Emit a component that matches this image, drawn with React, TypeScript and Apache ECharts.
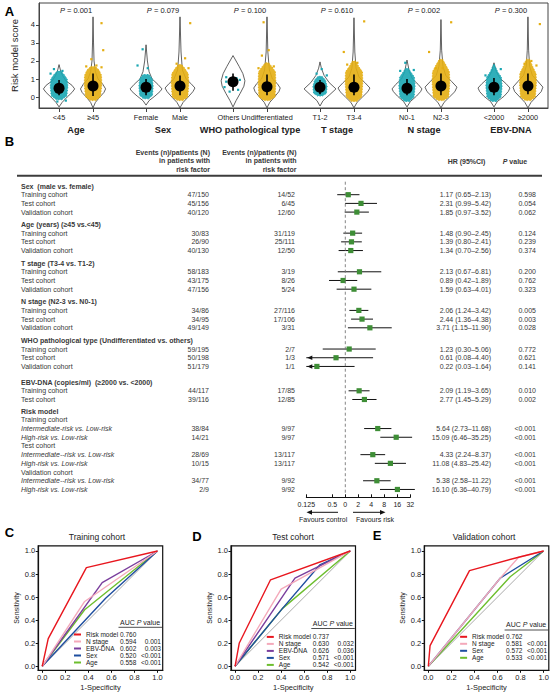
import { useEffect, useRef } from 'react';
import * as echarts from 'echarts';

const FONT = '"Liberation Sans", Arial, Helvetica, sans-serif';
const INK = '#222222';
const TABLE_INK = '#383838';
const TEAL = '#19A6B2';
const GOLD = '#E4AE12';
const SQUARE_GREEN = '#3E8E36';

// ---------- Panel A: risk model score by clinical factor ----------
const factorNames = ['Age', 'Sex', 'WHO pathological type', 'T stage', 'N stage', 'EBV-DNA'];
const factorP = ['0.001', '0.079', '0.100', '0.610', '0.002', '0.300'];
const levelLabels = ['<45', '≥45', 'Female', 'Male', 'Others', 'Undifferentiated', 'T1-2', 'T3-4', 'N0-1', 'N2-3', '<2000', '≥2000'];
const levelMeans = [0.48, 0.61, 0.54, 0.61, 0.85, 0.57, 0.54, 0.54, 0.48, 0.61, 0.54, 0.61];
const levelSpread: [number, number][] = [
  [0.1, 0.95], [0.05, 1.3], [0.1, 1.0], [0.1, 1.2], [0.35, 1.3], [0.1, 1.25],
  [0.15, 0.95], [0.1, 1.25], [0.1, 1.0], [0.1, 1.3], [0.1, 1.05], [0.15, 1.3],
];
// violin outline: [score, half width]
const violinOutlines: [number, number][][] = [
  [[-0.55, 0], [-0.3, 0.09], [0, 0.24], [0.25, 0.38], [0.45, 0.46], [0.65, 0.38], [0.9, 0.2], [1.2, 0.1], [1.5, 0.04], [1.8, 0]],
  [[-0.6, 0], [-0.3, 0.07], [0, 0.2], [0.25, 0.32], [0.45, 0.37], [0.7, 0.29], [1.0, 0.15], [1.4, 0.07], [2.0, 0.03], [3.0, 0.015], [4.45, 0]],
  [[-0.45, 0], [-0.2, 0.09], [0.05, 0.26], [0.3, 0.41], [0.45, 0.47], [0.7, 0.35], [1.0, 0.18], [1.4, 0.09], [2.0, 0.04], [2.9, 0]],
  [[-0.6, 0], [-0.3, 0.09], [0, 0.24], [0.3, 0.38], [0.5, 0.44], [0.75, 0.32], [1.0, 0.18], [1.5, 0.07], [2.5, 0.03], [4.45, 0]],
  [[-0.55, 0], [-0.2, 0.09], [0.2, 0.21], [0.6, 0.32], [0.9, 0.35], [1.3, 0.29], [1.7, 0.18], [2.0, 0.09], [2.3, 0]],
  [[-0.6, 0], [-0.3, 0.08], [0, 0.22], [0.3, 0.35], [0.5, 0.39], [0.75, 0.3], [1.0, 0.16], [1.5, 0.07], [2.5, 0.025], [4.45, 0]],
  [[-0.5, 0], [-0.2, 0.09], [0.1, 0.27], [0.45, 0.47], [0.8, 0.27], [1.2, 0.12], [1.6, 0.04], [1.95, 0]],
  [[-0.6, 0], [-0.3, 0.09], [0, 0.25], [0.3, 0.41], [0.5, 0.47], [0.8, 0.32], [1.1, 0.15], [1.6, 0.06], [2.5, 0.025], [4.4, 0]],
  [[-0.55, 0], [-0.25, 0.1], [0.05, 0.28], [0.3, 0.4], [0.45, 0.44], [0.7, 0.33], [1.0, 0.16], [1.4, 0.07], [2.05, 0]],
  [[-0.6, 0], [-0.3, 0.09], [0, 0.25], [0.3, 0.41], [0.55, 0.47], [0.85, 0.32], [1.2, 0.14], [1.7, 0.06], [2.6, 0.02], [4.3, 0]],
  [[-0.55, 0], [-0.25, 0.1], [0.05, 0.3], [0.3, 0.42], [0.5, 0.47], [0.75, 0.35], [1.05, 0.17], [1.4, 0.07], [1.9, 0]],
  [[-0.6, 0], [-0.3, 0.09], [0, 0.24], [0.3, 0.39], [0.55, 0.44], [0.85, 0.3], [1.2, 0.13], [1.7, 0.05], [2.6, 0.02], [4.45, 0]],
];
// dense core of the patient points: [score, half width]
const jitterCores: [number, number][][] = [
  [[-0.15, 0.08], [0.05, 0.23], [0.6, 0.26], [1.0, 0.24], [1.25, 0.15], [1.45, 0.05]],
  [[-0.2, 0.08], [0.0, 0.22], [0.7, 0.26], [1.2, 0.25], [1.5, 0.18], [1.7, 0.07]],
  [[-0.1, 0.08], [0.1, 0.19], [0.6, 0.21], [1.0, 0.19], [1.25, 0.09]],
  [[-0.2, 0.08], [0, 0.23], [0.8, 0.26], [1.3, 0.24], [1.6, 0.14], [1.8, 0.05]],
  [],
  [[-0.2, 0.08], [0, 0.24], [0.8, 0.26], [1.4, 0.25], [1.7, 0.14], [1.9, 0.05]],
  [[0.05, 0.07], [0.2, 0.19], [0.6, 0.21], [0.95, 0.16], [1.15, 0.06]],
  [[-0.25, 0.08], [0, 0.23], [0.8, 0.26], [1.4, 0.25], [1.7, 0.14], [2.0, 0.05]],
  [[-0.25, 0.07], [0, 0.21], [0.6, 0.24], [1.1, 0.22], [1.4, 0.11], [1.6, 0.04]],
  [[-0.2, 0.08], [0, 0.23], [0.8, 0.26], [1.4, 0.25], [1.8, 0.14], [2.1, 0.05]],
  [[-0.25, 0.07], [0, 0.21], [0.6, 0.24], [1.1, 0.22], [1.4, 0.11], [1.7, 0.04]],
  [[-0.2, 0.08], [0, 0.22], [0.8, 0.25], [1.3, 0.24], [1.7, 0.14], [2.1, 0.05]],
];
// isolated patient points: [offset from centre, score]
const jitterStrays: [number, number][][] = [
  [[-0.15, 1.55], [0.1, 1.45], [-0.25, 1.3], [0.2, -0.2], [-0.05, -0.25]],
  [[0.25, 4.1], [0.3, 2.6], [-0.05, 2.1], [0.1, 1.75], [-0.2, 1.7], [0.25, 1.65]],
  [[-0.1, 2.65], [-0.25, 1.75], [0.05, 1.6]],
  [[0.3, 4.1], [0.15, 2.15], [-0.1, 1.85], [0.25, 1.6]],
  [[-0.2, 1.1], [0.1, 1.05], [0.2, 0.95], [-0.25, 0.55], [0.15, 0.4], [-0.1, 0.3], [0.05, 0.7], [-0.2, 0.85]],
  [[-0.1, 4.15], [0.05, 2.6], [-0.15, 2.3], [0.2, 1.7], [-0.25, 1.6]],
  [[0.05, 1.55], [-0.1, 1.3], [0.2, 1.2]],
  [[0.3, 4.2], [-0.3, 2.5], [0.1, 1.9], [-0.2, 1.8]],
  [[-0.05, 1.9], [0.2, 1.5], [-0.2, 1.45]],
  [[0.3, 4.15], [-0.35, 2.5], [0.05, 1.6], [-0.15, 1.6]],
  [[0.0, 1.75], [0.2, 1.55], [-0.25, 1.2]],
  [[0.35, 4.05], [0.1, 2.0], [-0.1, 1.85], [0.25, 1.75]],
];
const scoreTicks = [0, 1, 2, 3, 4];

// ---------- Panel B: forest plot ----------
// [label, events with factor, events without, HR, lower, upper, P]
type ForestRow = [string, string?, string?, number?, number?, number?, string?];
const sexRows: ForestRow[] = [
  ['Training cohort', '47/150', '14/52', 1.17, 0.65, 2.13, '0.598'],
  ['Test cohort', '45/156', '6/45', 2.31, 0.99, 5.42, '0.054'],
  ['Validation cohort', '40/120', '12/60', 1.85, 0.97, 3.52, '0.062'],
];
const ageRows: ForestRow[] = [
  ['Training cohort', '30/83', '31/119', 1.48, 0.9, 2.45, '0.124'],
  ['Test cohort', '26/90', '25/111', 1.39, 0.8, 2.41, '0.239'],
  ['Validation cohort', '40/130', '12/50', 1.34, 0.7, 2.56, '0.374'],
];
const tStageRows: ForestRow[] = [
  ['Training cohort', '58/183', '3/19', 2.13, 0.67, 6.81, '0.200'],
  ['Test cohort', '43/175', '8/26', 0.89, 0.42, 1.89, '0.762'],
  ['Validation cohort', '47/156', '5/24', 1.59, 0.63, 4.01, '0.323'],
];
const nStageRows: ForestRow[] = [
  ['Training cohort', '34/86', '27/116', 2.06, 1.24, 3.42, '0.005'],
  ['Test cohort', '34/95', '17/106', 2.44, 1.36, 4.38, '0.003'],
  ['Validation cohort', '49/149', '3/31', 3.71, 1.15, 11.9, '0.028'],
];
const whoRows: ForestRow[] = [
  ['Training cohort', '59/195', '2/7', 1.23, 0.3, 5.06, '0.772'],
  ['Test cohort', '50/198', '1/3', 0.61, 0.08, 4.4, '0.621'],
  ['Validation cohort', '51/179', '1/1', 0.22, 0.03, 1.64, '0.141'],
];
const ebvRows: ForestRow[] = [
  ['Training cohort', '44/117', '17/85', 2.09, 1.19, 3.65, '0.010'],
  ['Test cohort', '39/116', '12/85', 2.77, 1.45, 5.29, '0.002'],
];
const riskRows: ForestRow[] = [
  ['Training cohort'],
  ['Intermediate-risk vs. Low-risk', '38/84', '9/97', 5.64, 2.73, 11.68, '<0.001'],
  ['High-risk vs. Low-risk', '14/21', '9/97', 15.09, 6.46, 35.25, '<0.001'],
  ['Test cohort'],
  ['Intermediate--risk vs. Low-risk', '28/69', '13/117', 4.33, 2.24, 8.37, '<0.001'],
  ['High-risk vs. Low-risk', '10/15', '13/117', 11.08, 4.83, 25.42, '<0.001'],
  ['Validation cohort'],
  ['Intermediate--risk vs. Low-risk', '34/77', '9/92', 5.38, 2.58, 11.22, '<0.001'],
  ['High-risk vs. Low-risk', '2/9', '9/92', 16.1, 6.36, 40.79, '<0.001'],
];
const forestGroups: { title: string; rows: ForestRow[]; comparisons?: boolean }[] = [
  { title: 'Sex  (male vs. female)', rows: sexRows },
  { title: 'Age (years) (≥45 vs.<45)', rows: ageRows },
  { title: 'T stage (T3-4 vs. T1-2)', rows: tStageRows },
  { title: 'N stage (N2-3 vs. N0-1)', rows: nStageRows },
  { title: 'WHO pathological type (Undifferentiated vs. others)', rows: whoRows },
  { title: 'EBV-DNA (copies/ml)  (≥2000 vs. <2000)', rows: ebvRows },
  { title: 'Risk model', rows: riskRows, comparisons: true },
];

// ---------- Panels C-E: ROC curves, points are [1-specificity, sensitivity] ----------
const rocNames = ['Risk model', 'N stage', 'EBV-DNA', 'Sex', 'Age'];
const rocColors: Record<string, string> = {
  'Risk model': '#E8161E', 'N stage': '#F4A9BA', 'EBV-DNA': '#7A3E9D', Sex: '#1E4E9F', Age: '#6DBE2E',
};
const trainCurves: Record<string, number[][]> = {
  'Risk model': [[0, 0], [0.052, 0.24], [0.383, 0.856], [1, 1]],
  'N stage': [[0, 0], [0.368, 0.562], [1, 1]],
  'EBV-DNA': [[0, 0], [0.52, 0.726], [1, 1]],
  Sex: [[0, 0], [0.55, 0.59], [1, 1]],
  Age: [[0, 0], [0.368, 0.49], [1, 1]],
};
const testCurves: Record<string, number[][]> = {
  'Risk model': [[0, 0], [0.037, 0.202], [0.308, 0.75], [1, 1]],
  'N stage': [[0, 0], [0.4, 0.67], [1, 1]],
  'EBV-DNA': [[0, 0], [0.52, 0.764], [1, 1]],
  Sex: [[0, 0], [0.41, 0.5], [0.735, 0.879], [1, 1]],
  Age: [[0, 0], [0.41, 0.5], [1, 1]],
};
const validCurves: Record<string, number[][]> = {
  'Risk model': [[0, 0], [0.015, 0.179], [0.357, 0.83], [0.783, 0.946], [1, 1]],
  'N stage': [[0, 0], [0.623, 0.764], [0.783, 0.946], [1, 1]],
  Sex: [[0, 0], [0.623, 0.764], [1, 1]],
  Age: [[0, 0], [0.71, 0.776], [1, 1]],
};
const trainAuc = ['0.760', '0.594', '0.602', '0.520', '0.558'];
const trainP = ['', '0.001', '0.003', '<0.001', '<0.001'];
const testAuc = ['0.737', '0.630', '0.626', '0.571', '0.542'];
const testP = ['', '0.032', '0.036', '<0.001', '<0.001'];
const validNames = ['Risk model', 'N stage', 'Sex', 'Age'];
const validAuc = ['0.762', '0.581', '0.572', '0.533'];
const validP = ['', '<0.001', '<0.001', '<0.001'];
const rocTicks = [0, 0.2, 0.4, 0.6, 0.8, 1];

// ---------- layout ----------
const PAIR_STEP = 2.56;
const levelX = levelLabels.map((_, i) => Math.floor(i / 2) * PAIR_STEP + (i % 2));
const factorX = factorNames.map((_, g) => g * PAIR_STEP + 0.5);
const P_LABEL_Y = 4.83;

const ROW0_PX = 186;
const ROW_PX = 8.7;
const rowAt = (px: number) => (px - ROW0_PX) / ROW_PX;
const GROUP_GAP = [0, 0.42, 0.44, 0.44, 0.44, 0.8, 0.34];
const COL_LABEL = 21;
const COL_EV1 = 209;
const COL_EV2 = 295;
const COL_HR = 491;
const COL_P = 536;
const RULE_TOP = 174.8;
const RULE_H = 2;
const HR_MIN_EXP = -3;

const ROC_MIN = -0.035;
const ROC_MAX = 1.045;
const ROC_TOP = 545.8;
const ROC_SIZE = 124.5;
const rocPanels = [
  { left: 38.2, title: 'Training cohort', titleX: 97, letter: 'C', letterX: 9.5, letterY: 532, curves: trainCurves, names: rocNames, auc: trainAuc, p: trainP, legendTop: 631, headY: 622, lineY: 627.3 },
  { left: 231, title: 'Test cohort', titleX: 293, letter: 'D', letterX: 197, letterY: 536.5, curves: testCurves, names: rocNames, auc: testAuc, p: testP, legendTop: 633.4, headY: 623.3, lineY: 628.5 },
  { left: 424.3, title: 'Validation cohort', titleX: 484, letter: 'E', letterX: 377, letterY: 535, curves: validCurves, names: validNames, auc: validAuc, p: validP, legendTop: 633.3, headY: 624.5, lineY: 630 },
];

const fmt = (v: number) => v.toFixed(2);

type Cell = { x: number; row: number; text: string; align: string; bold?: boolean; italic?: boolean; lineHeight?: number };

function buildOption() {
  // ---- forest table cells ----
  const cells: Cell[] = [];
  const head = 'Events (n)/patients (N)\nin patients with\nrisk factor';
  cells.push({ x: COL_EV1 + 1, row: rowAt(160.5), text: head, align: 'right', bold: true, lineHeight: 8.5 });
  cells.push({ x: COL_EV2 + 1.5, row: rowAt(160.5), text: head, align: 'right', bold: true, lineHeight: 8.5 });
  cells.push({ x: 466.5, row: rowAt(161), text: 'HR (95%CI)', align: 'center', bold: true });
  cells.push({ x: 515, row: rowAt(161), text: '{i|P} value', align: 'center', bold: true });

  const forestData: number[][] = [];
  let r = 0;
  forestGroups.forEach((grp, g) => {
    if (g > 0) r += 1 + GROUP_GAP[g];
    cells.push({ x: COL_LABEL, row: r, text: grp.title, align: 'left', bold: true });
    grp.rows.forEach((row) => {
      r += 1;
      const [label, ev1, ev2, hr, lo, hi, p] = row;
      cells.push({ x: COL_LABEL, row: r, text: label, align: 'left', italic: !!grp.comparisons && hr !== undefined });
      if (hr === undefined || lo === undefined || hi === undefined) return;
      cells.push({ x: COL_EV1, row: r, text: ev1 as string, align: 'right' });
      cells.push({ x: COL_EV2, row: r, text: ev2 as string, align: 'right' });
      cells.push({ x: COL_HR, row: r, text: `${fmt(hr)} (${fmt(lo)}–${fmt(hi)})`, align: 'right' });
      cells.push({ x: COL_P, row: r, text: p as string, align: 'right' });
      forestData.push([Math.log2(hr), Math.log2(lo), Math.log2(hi), r]);
    });
  });

  const grids: any[] = [
    { left: 39, top: 3, width: 509, height: 105, show: true, borderColor: '#444', borderWidth: 1 },
    { left: 0, top: 140, width: 551, height: 380 },
    { left: 306.3, top: 178, width: 104, height: 319.3 },
    ...rocPanels.map((p) => ({ left: p.left, top: ROC_TOP, width: ROC_SIZE, height: ROC_SIZE, show: true, borderColor: '#111', borderWidth: 1.2 })),
    // thin band used as the rule under the table header
    { left: 17, top: RULE_TOP, width: 525, height: RULE_H, show: true, backgroundColor: '#3c3c3c', borderWidth: 0 },
  ].map((gr) => ({ containLabel: false, outerBoundsMode: 'none', ...gr }));
  const ruleGrid = grids.length - 1;

  const lbl = { fontFamily: FONT, color: INK };

  const xAxes: any[] = [
    {
      gridIndex: 0, type: 'value', min: -0.59, max: 14.39, position: 'bottom',
      axisLine: { show: true, onZero: false, lineStyle: { color: '#444', width: 1 } },
      axisTick: { show: true, customValues: levelX, length: 4, lineStyle: { color: '#444' } },
      axisLabel: {
        ...lbl, fontSize: 7.3, margin: 6, customValues: levelX,
        formatter: (v: number) => {
          const t = levelLabels[levelX.findIndex((x) => Math.abs(x - v) < 1e-6)] ?? '';
          return t === 'Others' ? `{o|${t}}` : t;
        },
        rich: { o: { padding: [0, 9, 0, 0], fontFamily: FONT, fontSize: 7.3, color: INK } },
      },
      splitLine: { show: false },
    },
    {
      gridIndex: 0, type: 'value', min: -0.59, max: 14.39, position: 'bottom', offset: 12,
      axisLine: { show: false, onZero: false }, axisTick: { show: false }, splitLine: { show: false },
      axisLabel: {
        ...lbl, fontSize: 9.2, fontWeight: 'bold', margin: 5, customValues: factorX,
        formatter: (v: number) => factorNames[factorX.findIndex((x) => Math.abs(x - v) < 1e-6)] ?? '',
      },
    },
    { gridIndex: 1, type: 'value', min: 0, max: 551, show: false },
    {
      gridIndex: 2, type: 'value', min: -3, max: 5, interval: 1, position: 'bottom',
      axisLine: { show: true, onZero: false, lineStyle: { color: '#111', width: 1 } },
      axisTick: { show: true, inside: true, length: 3, lineStyle: { color: '#111' } },
      axisLabel: {
        ...lbl, fontSize: 7, margin: 4, showMinLabel: true, showMaxLabel: true,
        formatter: (v: number) => (v === 0 ? '0' : String(Math.pow(2, v))),
      },
      splitLine: { show: false },
    },
    ...rocPanels.map((_, k) => ({
      gridIndex: 3 + k, type: 'value', min: ROC_MIN, max: ROC_MAX, position: 'bottom',
      name: '1-Specificity', nameLocation: 'middle', nameGap: 13,
      nameTextStyle: { ...lbl, fontSize: 7.5 },
      axisLine: { show: true, onZero: false, lineStyle: { color: '#111', width: 1.2 } },
      axisTick: { show: true, customValues: rocTicks, length: 2.5, lineStyle: { color: '#111' } },
      axisLabel: { ...lbl, fontSize: 7.5, margin: 3, customValues: rocTicks, formatter: (v: number) => v.toFixed(1) },
      splitLine: { show: false },
    })),
    { gridIndex: ruleGrid, type: 'value', min: 0, max: 1, show: false },
  ];

  const yAxes: any[] = [
    {
      gridIndex: 0, type: 'value', min: -0.61, max: 5.22, position: 'left',
      name: 'Risk model score', nameLocation: 'middle', nameGap: 17,
      nameTextStyle: { ...lbl, fontSize: 9.5 },
      axisLine: { show: true, onZero: false, lineStyle: { color: '#444', width: 1 } },
      axisTick: { show: true, customValues: scoreTicks, length: 3, lineStyle: { color: '#444' } },
      axisLabel: { ...lbl, fontSize: 7.5, margin: 4, customValues: scoreTicks },
      splitLine: { show: false },
    },
    { gridIndex: 1, type: 'value', inverse: true, min: rowAt(140), max: rowAt(520), show: false },
    { gridIndex: 2, type: 'value', inverse: true, min: rowAt(178), max: rowAt(497.3), show: false },
    ...rocPanels.map((_, k) => ({
      gridIndex: 3 + k, type: 'value', min: ROC_MIN, max: ROC_MAX, position: 'left',
      name: 'Sensitivity', nameLocation: 'middle', nameGap: 18,
      nameTextStyle: { ...lbl, fontSize: 7 },
      axisLine: { show: true, onZero: false, lineStyle: { color: '#111', width: 1.2 } },
      axisTick: { show: true, customValues: rocTicks, length: 2.5, lineStyle: { color: '#111' } },
      axisLabel: { ...lbl, fontSize: 7.5, margin: 3, customValues: rocTicks, formatter: (v: number) => v.toFixed(1) },
      splitLine: { show: false },
    })),
    { gridIndex: ruleGrid, type: 'value', min: 0, max: 1, show: false },
  ];

  const series: any[] = [];

  // violins with patient points, mean and spread
  series.push({
    type: 'custom', xAxisIndex: 0, yAxisIndex: 0, silent: true,
    encode: { x: 0, y: 1 },
    data: levelX.map((x, i) => [x, i]),
    renderItem: (_params: any, api: any) => {
      const cx = api.value(0) as number;
      const i = api.value(1) as number;
      const color = i % 2 === 0 ? TEAL : GOLD;
      const side = (prof: [number, number][], sign: number) => prof.map(([y, w]) => api.coord([cx + sign * w, y]));
      const ring = (prof: [number, number][]) => [...side(prof, 1), ...side(prof, -1).reverse()];
      const children: any[] = [
        { type: 'polygon', shape: { points: ring(violinOutlines[i]) }, style: { fill: 'none', stroke: '#3a3a3a', lineWidth: 0.8 } },
      ];
      if (jitterCores[i].length) {
        children.push({
          type: 'polygon', shape: { points: ring(jitterCores[i]) },
          style: { fill: color, opacity: 0.9, stroke: color, lineWidth: 1, lineDash: [1.2, 1.6] },
        });
      }
      jitterStrays[i].forEach(([dx, y]) => {
        const [px, py] = api.coord([cx + dx, y]);
        children.push({ type: 'rect', shape: { x: px - 1.1, y: py - 1.1, width: 2.2, height: 2.2 }, style: { fill: color } });
      });
      const lo = api.coord([cx, levelSpread[i][0]]);
      const hi = api.coord([cx, levelSpread[i][1]]);
      children.push({ type: 'line', shape: { x1: lo[0], y1: lo[1], x2: hi[0], y2: hi[1] }, style: { stroke: '#000', lineWidth: 1.6 } });
      const m = api.coord([cx, levelMeans[i]]);
      children.push({ type: 'circle', shape: { cx: m[0], cy: m[1], r: 5.5 }, style: { fill: '#000' } });
      return { type: 'group', children };
    },
  });

  // P values above each factor
  series.push({
    type: 'custom', xAxisIndex: 0, yAxisIndex: 0, silent: true,
    encode: { x: 0, y: 1 },
    data: factorX.map((x, g) => [x, P_LABEL_Y, g]),
    renderItem: (_params: any, api: any) => {
      const [px, py] = api.coord([api.value(0), api.value(1)]);
      return {
        type: 'text', x: px, y: py,
        style: {
          text: `{i|P} = ${factorP[api.value(2) as number]}`, fill: INK, fontFamily: FONT, fontSize: 7.5,
          align: 'center', verticalAlign: 'middle',
          rich: { i: { fontStyle: 'italic', fontFamily: FONT, fontSize: 7.5, fill: INK } },
        },
      };
    },
  });

  // forest table cells
  series.push({
    type: 'custom', xAxisIndex: 2, yAxisIndex: 1, silent: true,
    encode: { x: 0, y: 1 },
    data: cells.map((c, i) => [c.x, c.row, i]),
    renderItem: (_params: any, api: any) => {
      const c = cells[api.value(2) as number];
      const [px, py] = api.coord([api.value(0), api.value(1)]);
      return {
        type: 'text', x: px, y: py,
        style: {
          text: c.text, fill: TABLE_INK, fontFamily: FONT, fontSize: 7,
          fontWeight: c.bold ? 'bold' : 'normal', fontStyle: c.italic ? 'italic' : 'normal',
          align: c.align, verticalAlign: 'middle', lineHeight: c.lineHeight,
          rich: { i: { fontStyle: 'italic', fontWeight: 'bold', fontFamily: FONT, fontSize: 7, fill: TABLE_INK } },
        },
      };
    },
  });

  // reference line at HR = 1
  series.push({
    type: 'line', xAxisIndex: 3, yAxisIndex: 2, silent: true, symbol: 'none',
    data: [[0, rowAt(181.7)], [0, rowAt(493)]],
    lineStyle: { color: '#777', width: 0.9, type: [3, 2.5] },
  });

  // hazard ratios with confidence intervals
  series.push({
    type: 'custom', xAxisIndex: 3, yAxisIndex: 2, silent: true,
    encode: { x: [0, 1, 2], y: 3 },
    data: forestData,
    renderItem: (_params: any, api: any) => {
      const hr = api.value(0), lo = api.value(1), hi = api.value(2), row = api.value(3);
      const a = api.coord([Math.max(lo, HR_MIN_EXP), row]);
      const b = api.coord([hi, row]);
      const c = api.coord([hr, row]);
      const children: any[] = [
        { type: 'line', shape: { x1: a[0], y1: a[1], x2: b[0], y2: b[1] }, style: { stroke: '#111', lineWidth: 1 } },
      ];
      if (lo < HR_MIN_EXP) {
        children.push({
          type: 'polygon',
          shape: { points: [[a[0] + 1, a[1]], [a[0] + 6, a[1] - 2.3], [a[0] + 6, a[1] + 2.3]] },
          style: { fill: '#111' },
        });
      }
      children.push({ type: 'rect', shape: { x: c[0] - 2.6, y: c[1] - 2.6, width: 5.2, height: 5.2 }, style: { fill: SQUARE_GREEN } });
      return { type: 'group', children };
    },
  });

  // ROC curves
  const drawOrder = ['Age', 'Sex', 'EBV-DNA', 'N stage', 'Risk model'];
  rocPanels.forEach((panel, k) => {
    series.push({
      type: 'line', xAxisIndex: 4 + k, yAxisIndex: 3 + k, silent: true, symbol: 'none',
      data: [[0, 0], [1, 1]], lineStyle: { color: '#AAAAAA', width: 1 },
    });
    drawOrder.forEach((name) => {
      const pts = panel.curves[name];
      if (!pts) return;
      series.push({
        name, type: 'line', xAxisIndex: 4 + k, yAxisIndex: 3 + k, silent: true, symbol: 'none',
        data: pts, lineStyle: { color: rocColors[name], width: 1.4 }, itemStyle: { color: rocColors[name] },
      });
    });
  });

  const legends = rocPanels.map((panel) => ({
    show: true, orient: 'vertical', left: panel.left + 35.8, top: panel.legendTop,
    padding: 0, itemGap: 0, itemWidth: 7, itemHeight: 2, icon: 'rect', selectedMode: false,
    data: panel.names,
    formatter: (name: string) => {
      const k = panel.names.indexOf(name);
      return `{n|${name}}{a|${panel.auc[k]}}{p|${panel.p[k]}}`;
    },
    textStyle: {
      fontFamily: FONT, fontSize: 6.5, color: INK, lineHeight: 6.7,
      rich: {
        n: { width: 34, fontFamily: FONT, fontSize: 6.5, color: INK, lineHeight: 6.7 },
        a: { width: 20, fontFamily: FONT, fontSize: 6.5, color: INK, lineHeight: 6.7 },
        p: { width: 21, align: 'right', fontFamily: FONT, fontSize: 6.5, color: INK, lineHeight: 6.7 },
      },
    },
  }));

  const graphic: any[] = [];
  const letter = (t: string, x: number, y: number) => ({
    type: 'text', x, y, style: { text: t, fontFamily: FONT, fontSize: 13, fontWeight: 'bold', fill: '#000', textAlign: 'center', textVerticalAlign: 'middle' },
  });
  graphic.push(letter('A', 9.5, 11.5), letter('B', 9.5, 141));
  // direction arrows below the hazard-ratio axis
  const arrowY = 512.3;
  graphic.push(
    { type: 'line', shape: { x1: 338, y1: arrowY, x2: 311, y2: arrowY }, style: { stroke: '#111', lineWidth: 1 } },
    { type: 'polygon', shape: { points: [[306.5, arrowY], [312, arrowY - 2.4], [312, arrowY + 2.4]] }, style: { fill: '#111' } },
    { type: 'line', shape: { x1: 353, y1: arrowY, x2: 380, y2: arrowY }, style: { stroke: '#111', lineWidth: 1 } },
    { type: 'polygon', shape: { points: [[385.5, arrowY], [380, arrowY - 2.4], [380, arrowY + 2.4]] }, style: { fill: '#111' } },
    { type: 'text', x: 299, y: 519.5, style: { text: 'Favours control', fontFamily: FONT, fontSize: 7, fill: INK, textVerticalAlign: 'middle' } },
    { type: 'text', x: 356, y: 519.5, style: { text: 'Favours risk', fontFamily: FONT, fontSize: 7, fill: INK, textVerticalAlign: 'middle' } },
  );
  rocPanels.forEach((panel) => {
    graphic.push(letter(panel.letter, panel.letterX, panel.letterY));
    graphic.push({
      type: 'text', x: panel.titleX, y: 536.8,
      style: { text: panel.title, fontFamily: FONT, fontSize: 8.5, fill: INK, textAlign: 'center', textVerticalAlign: 'middle' },
    });
    const aucX = panel.left + 35.8 + 12 + 34;
    graphic.push({
      type: 'text', x: aucX, y: panel.headY,
      style: {
        text: 'AUC {i|P} value', fontFamily: FONT, fontSize: 7, fill: INK, textVerticalAlign: 'middle',
        rich: { i: { fontStyle: 'italic', fontFamily: FONT, fontSize: 7, fill: INK } },
      },
    });
    graphic.push({ type: 'line', shape: { x1: aucX - 1.5, y1: panel.lineY, x2: aucX + 42, y2: panel.lineY }, style: { stroke: '#222', lineWidth: 0.8 } });
  });

  return {
    animation: false,
    backgroundColor: '#ffffff',
    textStyle: { fontFamily: FONT },
    grid: grids,
    xAxis: xAxes,
    yAxis: yAxes,
    legend: legends,
    series,
    graphic,
  };
}

export default function App() {
  const ref = useRef<HTMLDivElement>(null);
  useEffect(() => {
    if (!ref.current) return;
    const chart = echarts.init(ref.current, undefined, { renderer: 'svg' });
    chart.setOption(buildOption() as any);
    return () => chart.dispose();
  }, []);
  return (
    <div
      ref={ref}
      style={{ position: 'absolute', left: 0, top: 0, width: 551, height: 692, background: '#ffffff' }}
    />
  );
}
